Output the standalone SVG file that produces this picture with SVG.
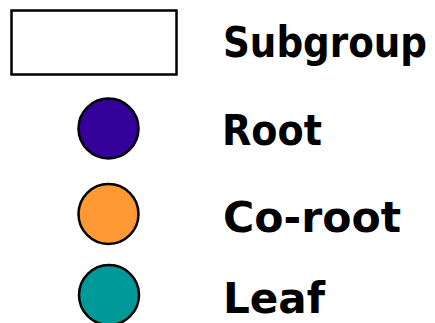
<svg xmlns="http://www.w3.org/2000/svg" width="435" height="323" viewBox="0 0 435 323">
  <style>
    .lbl { font-family: "Comic Sans MS", "DejaVu Sans Condensed", "DejaVu Sans", sans-serif; font-weight: bold; font-size: 42px; fill: #000; }
    .sym { stroke: #000; stroke-width: 2.5; }
  </style>
  <rect x="0" y="0" width="435" height="323" fill="#fff"/>
  <g id="legend-subgroup">
    <rect class="sym" x="11.5" y="10.5" width="165" height="64" fill="#fff"/>
    <text class="lbl" x="223" y="57" textLength="204" lengthAdjust="spacingAndGlyphs">Subgroup</text>
  </g>
  <g id="legend-root">
    <circle class="sym" cx="108.5" cy="128.5" r="30" fill="#330099"/>
    <text class="lbl" x="222" y="145" textLength="100" lengthAdjust="spacingAndGlyphs">Root</text>
  </g>
  <g id="legend-coroot">
    <circle class="sym" cx="108.5" cy="214" r="30" fill="#ff9933"/>
    <text class="lbl" x="223" y="232" textLength="178" lengthAdjust="spacingAndGlyphs">Co-root</text>
  </g>
  <g id="legend-leaf">
    <circle class="sym" cx="109" cy="295" r="30" fill="#009999"/>
    <text class="lbl" x="223" y="313" textLength="102" lengthAdjust="spacingAndGlyphs">Leaf</text>
  </g>
</svg>
